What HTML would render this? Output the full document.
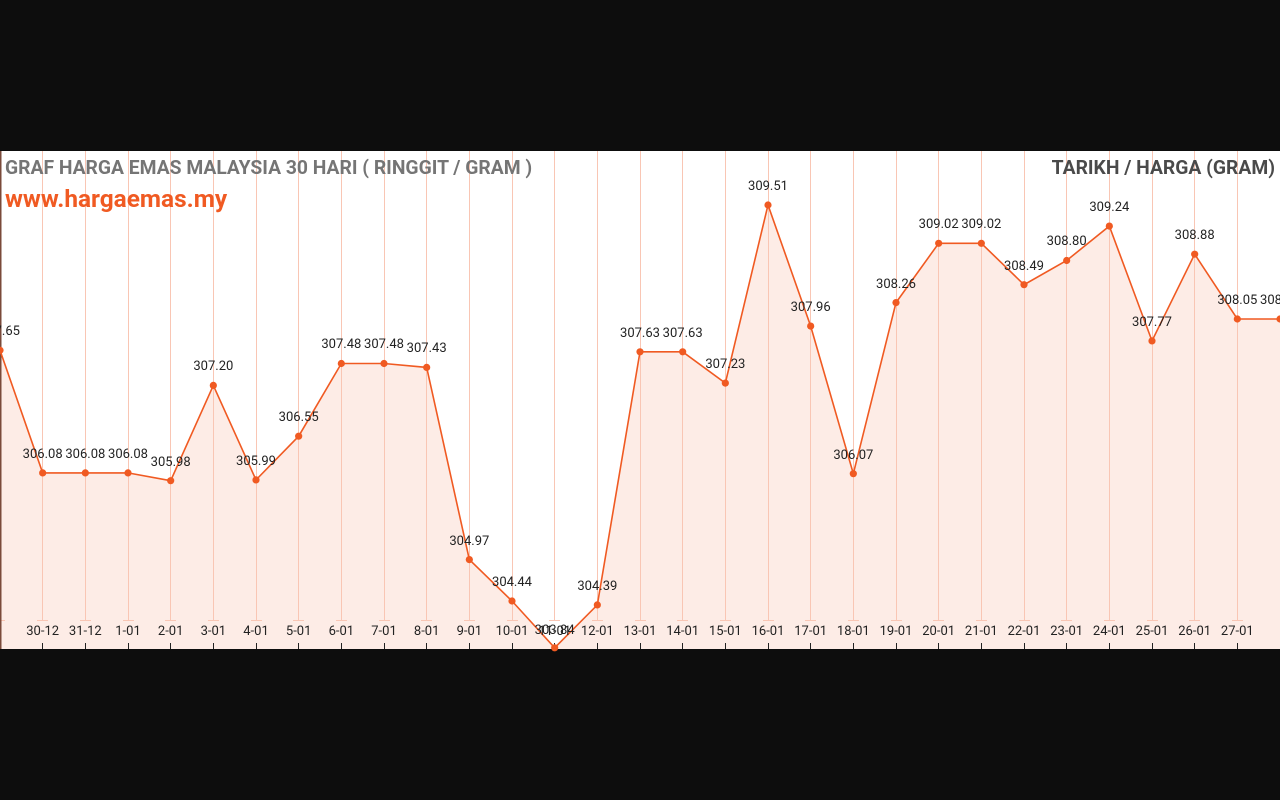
<!DOCTYPE html>
<html><head><meta charset="utf-8"><style>
html,body{margin:0;padding:0;background:#0d0d0d;width:1280px;height:800px;overflow:hidden}
svg{position:absolute;left:0;top:0}
</style></head><body>
<svg width="1280" height="800" viewBox="0 0 1280 800" font-family="Roboto, 'Liberation Sans', sans-serif">
<rect x="0" y="151" width="1280" height="498" fill="#fff"/>
<polygon fill="#fdece6" points="0,649 0,350.3 42.67,472.9 85.33,472.9 128,472.9 170.67,480.7 213.33,385.4 256,479.9 298.67,436.2 341.33,363.5 384,363.5 426.67,367.4 469.33,559.6 512,601 554.67,647.8 597.33,604.9 640,351.8 682.67,351.8 725.33,383.1 768,205 810.67,326.1 853.33,473.7 896,302.6 938.67,243.3 981.33,243.3 1024,284.7 1066.67,260.5 1109.33,226.1 1152,340.9 1194.67,254.2 1237.33,319 1280,319 1280,649"/>
<g stroke="#f9c6b4" stroke-width="1">
<path d="M42.5 151V620M85.5 151V620M128.5 151V620M170.5 151V620M213.5 151V620M256.5 151V620M298.5 151V620M341.5 151V620M384.5 151V620M426.5 151V620M469.5 151V620M512.5 151V620M554.5 151V620M597.5 151V620M640.5 151V620M682.5 151V620M725.5 151V620M768.5 151V620M810.5 151V620M853.5 151V620M896.5 151V620M938.5 151V620M981.5 151V620M1024.5 151V620M1066.5 151V620M1109.5 151V620M1152.5 151V620M1194.5 151V620M1237.5 151V620"/>
<path d="M37 620.5h11M80 620.5h11M123 620.5h11M165 620.5h11M208 620.5h11M251 620.5h11M293 620.5h11M336 620.5h11M379 620.5h11M421 620.5h11M464 620.5h11M507 620.5h11M549 620.5h11M592 620.5h11M635 620.5h11M677 620.5h11M720 620.5h11M763 620.5h11M805 620.5h11M848 620.5h11M891 620.5h11M933 620.5h11M976 620.5h11M1019 620.5h11M1061 620.5h11M1104 620.5h11M1147 620.5h11M1189 620.5h11M1232 620.5h11M0 620.5h5"/>
</g>
<g stroke="#222" stroke-width="1">
<path d="M42.5 643V649M85.5 643V649M128.5 643V649M170.5 643V649M213.5 643V649M256.5 643V649M298.5 643V649M341.5 643V649M384.5 643V649M426.5 643V649M469.5 643V649M512.5 643V649M554.5 643V649M597.5 643V649M640.5 643V649M682.5 643V649M725.5 643V649M768.5 643V649M810.5 643V649M853.5 643V649M896.5 643V649M938.5 643V649M981.5 643V649M1024.5 643V649M1066.5 643V649M1109.5 643V649M1152.5 643V649M1194.5 643V649M1237.5 643V649"/>
</g>
<rect x="0" y="151" width="1.5" height="498" fill="#7a4a3a"/>
<polyline fill="none" stroke="#f05a22" stroke-width="1.6" points="0,350.3 42.67,472.9 85.33,472.9 128,472.9 170.67,480.7 213.33,385.4 256,479.9 298.67,436.2 341.33,363.5 384,363.5 426.67,367.4 469.33,559.6 512,601 554.67,647.8 597.33,604.9 640,351.8 682.67,351.8 725.33,383.1 768,205 810.67,326.1 853.33,473.7 896,302.6 938.67,243.3 981.33,243.3 1024,284.7 1066.67,260.5 1109.33,226.1 1152,340.9 1194.67,254.2 1237.33,319 1280,319"/>
<g fill="#f05a22">
<circle cx="0" cy="350.3" r="3.6"/><circle cx="42.67" cy="472.9" r="3.6"/><circle cx="85.33" cy="472.9" r="3.6"/><circle cx="128" cy="472.9" r="3.6"/><circle cx="170.67" cy="480.7" r="3.6"/><circle cx="213.33" cy="385.4" r="3.6"/><circle cx="256" cy="479.9" r="3.6"/><circle cx="298.67" cy="436.2" r="3.6"/><circle cx="341.33" cy="363.5" r="3.6"/><circle cx="384" cy="363.5" r="3.6"/><circle cx="426.67" cy="367.4" r="3.6"/><circle cx="469.33" cy="559.6" r="3.6"/><circle cx="512" cy="601" r="3.6"/><circle cx="554.67" cy="647.8" r="3.6"/><circle cx="597.33" cy="604.9" r="3.6"/><circle cx="640" cy="351.8" r="3.6"/><circle cx="682.67" cy="351.8" r="3.6"/><circle cx="725.33" cy="383.1" r="3.6"/><circle cx="768" cy="205" r="3.6"/><circle cx="810.67" cy="326.1" r="3.6"/><circle cx="853.33" cy="473.7" r="3.6"/><circle cx="896" cy="302.6" r="3.6"/><circle cx="938.67" cy="243.3" r="3.6"/><circle cx="981.33" cy="243.3" r="3.6"/><circle cx="1024" cy="284.7" r="3.6"/><circle cx="1066.67" cy="260.5" r="3.6"/><circle cx="1109.33" cy="226.1" r="3.6"/><circle cx="1152" cy="340.9" r="3.6"/><circle cx="1194.67" cy="254.2" r="3.6"/><circle cx="1237.33" cy="319" r="3.6"/><circle cx="1280" cy="319" r="3.6"/>
</g>
<g font-size="13" fill="#222" text-anchor="middle">
<text x="0" y="335">307.65</text><text x="42.67" y="458">306.08</text><text x="85.33" y="458">306.08</text><text x="128" y="458">306.08</text><text x="170.67" y="466">305.98</text><text x="213.33" y="370">307.20</text><text x="256" y="465">305.99</text><text x="298.67" y="421">306.55</text><text x="341.33" y="348">307.48</text><text x="384" y="348">307.48</text><text x="426.67" y="352">307.43</text><text x="469.33" y="545">304.97</text><text x="512" y="586">304.44</text><text x="554.67" y="634">303.84</text><text x="597.33" y="590">304.39</text><text x="640" y="337">307.63</text><text x="682.67" y="337">307.63</text><text x="725.33" y="368">307.23</text><text x="768" y="190">309.51</text><text x="810.67" y="311">307.96</text><text x="853.33" y="459">306.07</text><text x="896" y="288">308.26</text><text x="938.67" y="228">309.02</text><text x="981.33" y="228">309.02</text><text x="1024" y="270">308.49</text><text x="1066.67" y="245">308.80</text><text x="1109.33" y="211">309.24</text><text x="1152" y="326">307.77</text><text x="1194.67" y="239">308.88</text><text x="1237.33" y="304">308.05</text><text x="1280" y="304">308.05</text>
</g>
<g font-size="13" fill="#222" text-anchor="middle">
<text x="42.67" y="635">30-12</text><text x="85.33" y="635">31-12</text><text x="128" y="635">1-01</text><text x="170.67" y="635">2-01</text><text x="213.33" y="635">3-01</text><text x="256" y="635">4-01</text><text x="298.67" y="635">5-01</text><text x="341.33" y="635">6-01</text><text x="384" y="635">7-01</text><text x="426.67" y="635">8-01</text><text x="469.33" y="635">9-01</text><text x="512" y="635">10-01</text><text x="554.67" y="635">11-01</text><text x="597.33" y="635">12-01</text><text x="640" y="635">13-01</text><text x="682.67" y="635">14-01</text><text x="725.33" y="635">15-01</text><text x="768" y="635">16-01</text><text x="810.67" y="635">17-01</text><text x="853.33" y="635">18-01</text><text x="896" y="635">19-01</text><text x="938.67" y="635">20-01</text><text x="981.33" y="635">21-01</text><text x="1024" y="635">22-01</text><text x="1066.67" y="635">23-01</text><text x="1109.33" y="635">24-01</text><text x="1152" y="635">25-01</text><text x="1194.67" y="635">26-01</text><text x="1237.33" y="635">27-01</text>
</g>
<text x="5" y="174" font-size="19.3" font-weight="bold" fill="#757575">GRAF HARGA EMAS MALAYSIA 30 HARI ( RINGGIT / GRAM )</text>
<text x="5" y="207" font-size="24.4" font-weight="bold" fill="#f05a22">www.hargaemas.my</text>
<text x="1275" y="174" font-size="19.3" font-weight="bold" fill="#4a4a4a" text-anchor="end">TARIKH / HARGA (GRAM)</text>
</svg>
</body></html>
